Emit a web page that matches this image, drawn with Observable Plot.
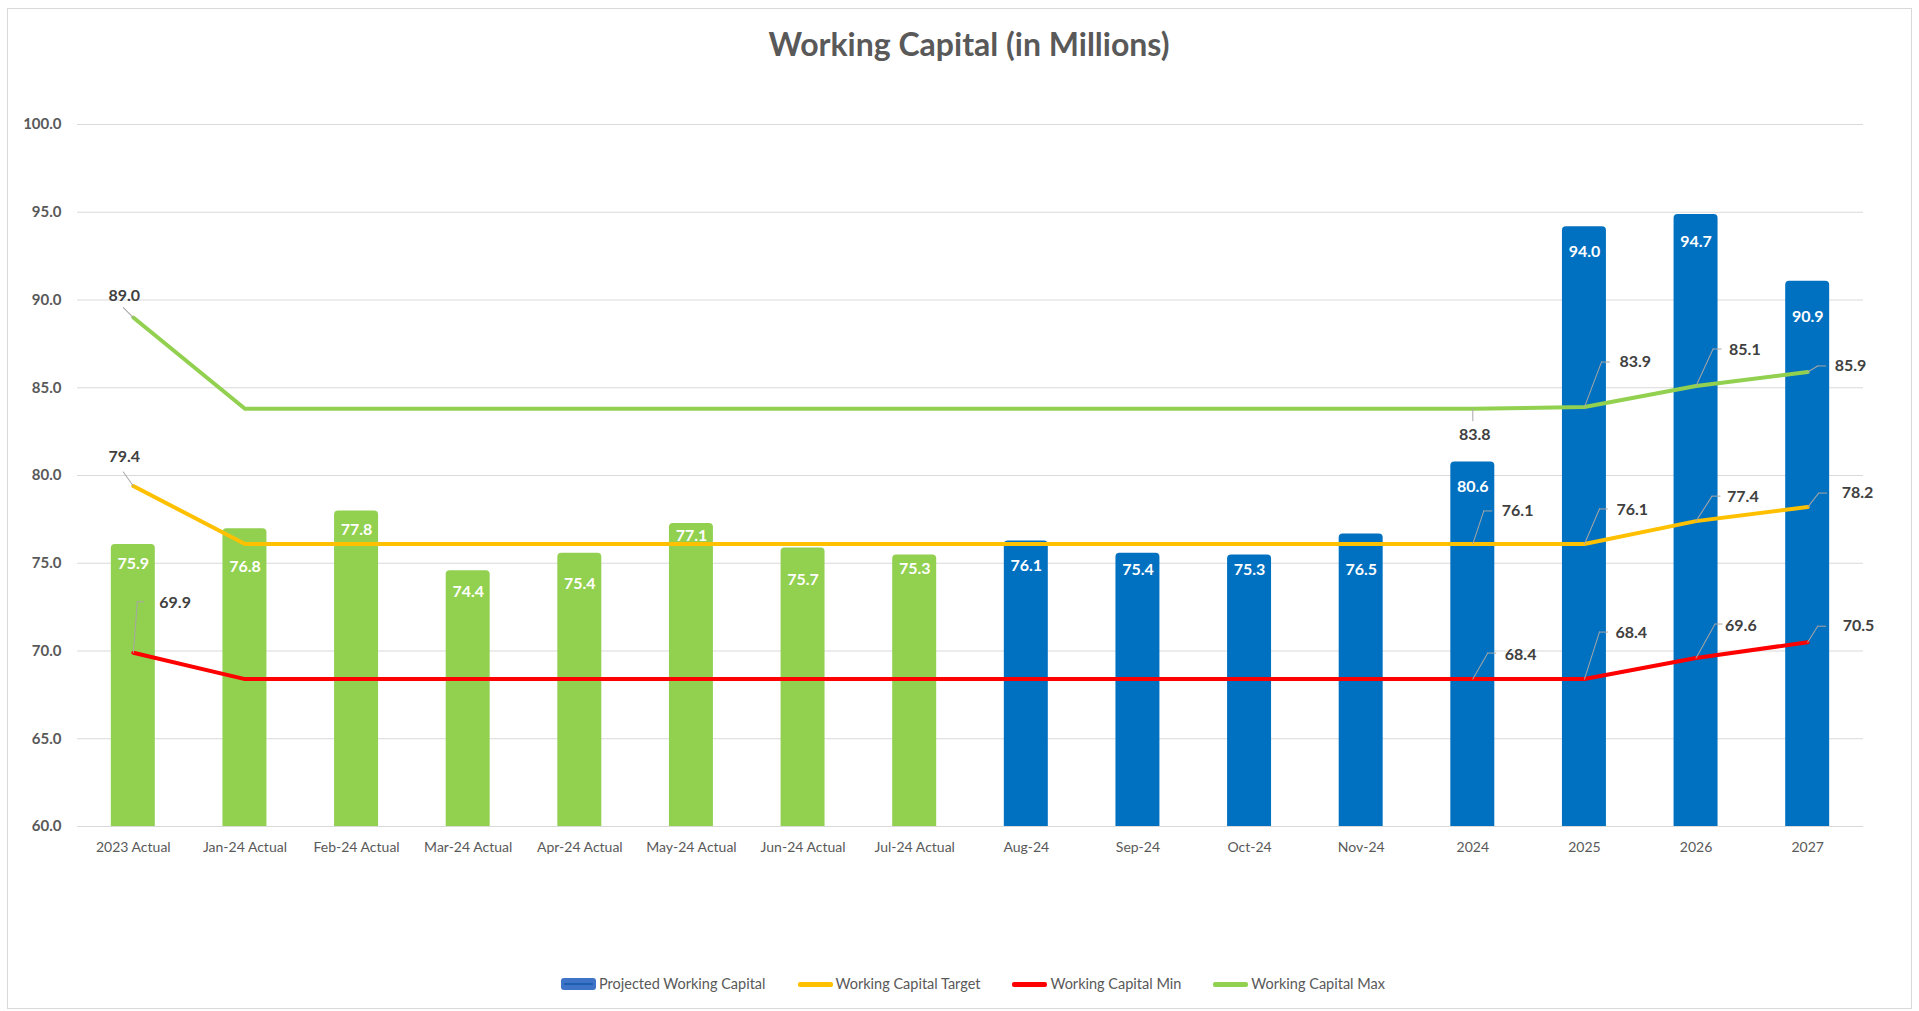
<!DOCTYPE html>
<html>
<head>
<meta charset="utf-8">
<script src="https://cdn.jsdelivr.net/npm/d3@7"></script>
<script src="https://cdn.jsdelivr.net/npm/@observablehq/plot@0.6"></script>
<style>
  body { margin: 0; background: #fff; font-family: Lato, "Open Sans", sans-serif; }
  #frame { position: absolute; left: 7px; top: 8px; width: 1905px; height: 1001px; border: 1px solid #d9d9d9; box-sizing: border-box; }
  #title { position: absolute; left: 969px; top: 25px; transform: translateX(-50%); font-size: 32px; font-weight: bold; color: #595959; white-space: nowrap; line-height: 38px; }
  #chart { position: absolute; left: 0; top: 0; }
  #legend { position: absolute; left: 561px; top: 975px; display: flex; align-items: center; font-size: 14.5px; color: #595959; line-height: 18px; white-space: nowrap; }
  .item { display: flex; align-items: center; margin-right: 32px; }
  .sw { display: inline-block; width: 35px; height: 5px; border-radius: 2px; margin-right: 3px; }
  .swbar { display: inline-block; width: 35px; height: 12px; border-radius: 3px; margin-right: 3px; background: #3f73c8; position: relative; }
  .swbar::after { content: ""; position: absolute; left: 3px; right: 3px; top: 5px; height: 2px; background: #1f5fb0; }
</style>
</head>
<body>
<div id="frame"></div>
<div id="title">Working Capital (in Millions)</div>
<div id="chart"></div>
<div id="legend">
  <div class="item"><span class="swbar"></span>Projected Working Capital</div>
  <div class="item"><span class="sw" style="background:#FFC000"></span>Working Capital Target</div>
  <div class="item"><span class="sw" style="background:#FF0000"></span>Working Capital Min</div>
  <div class="item"><span class="sw" style="background:#92D050"></span>Working Capital Max</div>
</div>
<script>
// ---- Data ----
const categories = ["2023 Actual", "Jan-24 Actual", "Feb-24 Actual", "Mar-24 Actual", "Apr-24 Actual", "May-24 Actual", "Jun-24 Actual", "Jul-24 Actual", "Aug-24", "Sep-24", "Oct-24", "Nov-24", "2024", "2025", "2026", "2027"];
const projected = [75.9, 76.8, 77.8, 74.4, 75.4, 77.1, 75.7, 75.3, 76.1, 75.4, 75.3, 76.5, 80.6, 94.0, 94.7, 90.9];
const wcTarget = [79.4, 76.1, 76.1, 76.1, 76.1, 76.1, 76.1, 76.1, 76.1, 76.1, 76.1, 76.1, 76.1, 76.1, 77.4, 78.2];
const wcMin = [69.9, 68.4, 68.4, 68.4, 68.4, 68.4, 68.4, 68.4, 68.4, 68.4, 68.4, 68.4, 68.4, 68.4, 69.6, 70.5];
const wcMax = [89.0, 83.8, 83.8, 83.8, 83.8, 83.8, 83.8, 83.8, 83.8, 83.8, 83.8, 83.8, 83.8, 83.9, 85.1, 85.9];
const yTicks = [60, 65, 70, 75, 80, 85, 90, 95, 100];

// ---- Styling: bar label offsets (px below bar value) ----
const barLabelDy = [16, 35, 16, 18, 28, 9, 29, 11, 22, 14, 12, 33, 22, 22, 24, 33];

// ---- Styling: which line points get labels, and label/leader offsets in pixels ----
const labelStyle = [
  {s: "max", c: "2023 Actual", lx: -10, ly: -10, h: 0, tx: -9, ty: -22, a: "middle"},
  {s: "max", c: "2024", lx: 0, ly: 12, h: 0, tx: 2, ty: 26, a: "middle"},
  {s: "max", c: "2025", lx: 17, ly: -45, h: 8, tx: 35, ty: -45, a: "start"},
  {s: "max", c: "2026", lx: 17, ly: -37, h: 8, tx: 33, ty: -36, a: "start"},
  {s: "max", c: "2027", lx: 10, ly: -6, h: 8, tx: 27, ty: -6, a: "start"},
  {s: "target", c: "2023 Actual", lx: -10, ly: -14, h: 0, tx: -9, ty: -29, a: "middle"},
  {s: "target", c: "2024", lx: 11, ly: -33, h: 8, tx: 29, ty: -33, a: "start"},
  {s: "target", c: "2025", lx: 15, ly: -35, h: 8, tx: 32, ty: -34, a: "start"},
  {s: "target", c: "2026", lx: 16, ly: -25, h: 8, tx: 31, ty: -24, a: "start"},
  {s: "target", c: "2027", lx: 11, ly: -14, h: 8, tx: 34, ty: -14, a: "start"},
  {s: "min", c: "2023 Actual", lx: 4, ly: -51, h: 6, tx: 26, ty: -50, a: "start"},
  {s: "min", c: "2024", lx: 15, ly: -26, h: 8, tx: 32, ty: -24, a: "start"},
  {s: "min", c: "2025", lx: 15, ly: -47, h: 8, tx: 31, ty: -46, a: "start"},
  {s: "min", c: "2026", lx: 19, ly: -34, h: 7, tx: 29, ty: -32, a: "start"},
  {s: "min", c: "2027", lx: 10, ly: -16, h: 8, tx: 35, ty: -16, a: "start"}
];

const rows = categories.map((c, i) => ({
  cat: c, projected: projected[i], target: wcTarget[i], min: wcMin[i], max: wcMax[i],
  actual: c.includes("Actual"), ldy: barLabelDy[i]
}));
const seriesArr = {target: wcTarget, min: wcMin, max: wcMax};

const leaderShape = { draw(ctx, l) { ctx.moveTo(0, 0); ctx.lineTo(0, -l); } };
const labelMarks = labelStyle.flatMap(o => {
  const i = categories.indexOf(o.c);
  const d = [{cat: o.c, v: seriesArr[o.s][i]}];
  const len = Math.hypot(o.lx, o.ly);
  const rot = Math.atan2(o.lx, -o.ly) * 180 / Math.PI;
  const m = [
    Plot.vector(d, {x: "cat", y: "v", length: len, rotate: rot, anchor: "start", shape: leaderShape, stroke: "#a6a6a6", strokeWidth: 1})
  ];
  if (o.h > 0) m.push(Plot.vector(d, {x: "cat", y: "v", dx: o.lx, dy: o.ly, length: o.h, rotate: 90, anchor: "start", shape: leaderShape, stroke: "#a6a6a6", strokeWidth: 1}));
  m.push(Plot.text(d, {x: "cat", y: "v", text: r => r.v.toFixed(1), dx: o.tx, dy: o.ty, textAnchor: o.a, fill: "#404040", fontWeight: "bold", fontSize: 16}));
  return m;
});

// bar labels grouped by offset so each group uses a constant dy
const barLabelMarks = [...new Set(barLabelDy)].map(off =>
  Plot.text(rows.filter(r => r.ldy === off), {x: "cat", y: "projected", text: d => d.projected.toFixed(1), dy: off, fill: "white", fontWeight: "bold", fontSize: 16})
);

const W = 1919, H = 880;
const chart = Plot.plot({
  width: W, height: H,
  marginLeft: 77, marginRight: 56, marginTop: 124, marginBottom: H - 826,
  style: {fontFamily: "Lato, 'Open Sans', sans-serif", fontSize: "14px", color: "#595959", background: "transparent"},
  x: {domain: categories, paddingInner: 0.606, paddingOuter: 0.303, round: false, label: null},
  y: {domain: [60, 100], label: null},
  marks: [
    Plot.gridY(yTicks, {stroke: "#d9d9d9", strokeOpacity: 1, strokeWidth: 1}),
    Plot.axisY(yTicks, {tickSize: 0, tickPadding: 16, tickFormat: d => d.toFixed(1), fontWeight: "bold", fontSize: 15, fill: "#595959", label: null}),
    Plot.axisX({tickSize: 0, tickPadding: 16, fill: "#595959", fontSize: 14, label: null}),
    Plot.barY(rows, {x: "cat", y1: 60, y2: "projected", fill: d => d.actual ? "#92D050" : "#0070C0", rx: 4, insetTop: -3, insetBottom: -8, clip: true}),
    Plot.line(rows, {x: "cat", y: "max", stroke: "#92D050", strokeWidth: 4, strokeLinejoin: "round"}),
    Plot.line(rows, {x: "cat", y: "target", stroke: "#FFC000", strokeWidth: 4, strokeLinejoin: "round"}),
    Plot.line(rows, {x: "cat", y: "min", stroke: "#FF0000", strokeWidth: 4, strokeLinejoin: "round"}),
    ...barLabelMarks,
    ...labelMarks
  ]
});
document.getElementById("chart").appendChild(chart);
</script>
</body>
</html>
